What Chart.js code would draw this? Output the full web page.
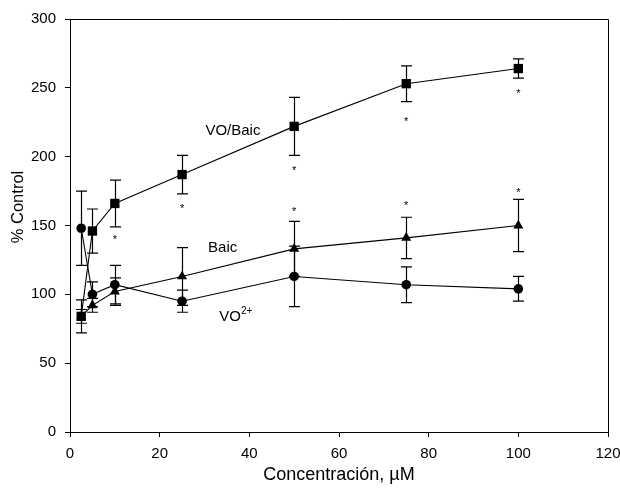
<!DOCTYPE html>
<html>
<head>
<meta charset="utf-8">
<script src="https://cdn.jsdelivr.net/npm/chart.js@4/dist/chart.umd.min.js"></script>
<style>
  html, body { margin: 0; padding: 0; background: #fff; }
  #wrap { width: 620px; height: 488px; }
</style>
</head>
<body>
<div id="wrap"><canvas id="chart" width="620" height="488"></canvas></div>
<script>
// DATA - concentration (uM) and % control for each treatment
var conc = [2.5, 5, 10, 25, 50, 75, 100];

var voBaic = [84, 146, 166, 187, 222, 253, 264];
var voBaicErr = [12, 16, 17, 14, 21, 13, 7];

var baic = [84, 92, 102, 113, 133, 141, 150];
var baicErr = [5, 5, 10, 21, 20, 15, 19];

var vo = [148, 100, 107, 95, 113, 107, 104];
var voErr = [27, 9, 14, 8, 22, 13, 9];

// significance marks (y in % control, null = none)
var voBaicStar = [null, null, 142, 164, 192, 227, 248];
var baicStar = [null, null, null, null, 162, 166, 176];

// series labels written inside the plot: [text, superscript, x, y]
var seriesLabels = [
  ['VO/Baic', '', 30.2, 218.5],
  ['Baic', '', 30.8, 134],
  ['VO', '2+', 33.3, 84]
];

var xTicks = [0, 20, 40, 60, 80, 100, 120];
var yTicks = [0, 50, 100, 150, 200, 250, 300];

var FONT = "'Liberation Sans', Arial, sans-serif";

function pts(ys) {
  var out = [];
  for (var i = 0; i < conc.length; i++) {
    out.push({ x: conc[i], y: ys[i] });
  }
  return out;
}

function makeSet(label, ys, style, radius) {
  return {
    label: label,
    data: pts(ys),
    borderColor: '#000',
    backgroundColor: '#000',
    borderWidth: 1.1,
    pointStyle: style,
    pointRadius: radius,
    pointBorderWidth: 0,
    pointBackgroundColor: '#000',
    fill: false,
    tension: 0
  };
}

var errSets = [voBaicErr, baicErr, voErr];
var valSets = [voBaic, baic, vo];

// error bars, border box, stars and labels
var extras = {
  id: 'extras',
  beforeDatasetsDraw: function(chart) {
    var ctx = chart.ctx;
    var xs = chart.scales.x;
    var ys = chart.scales.y;
    ctx.save();
    ctx.strokeStyle = '#000';
    ctx.lineWidth = 1.2;
    for (var s = 0; s < valSets.length; s++) {
      for (var i = 0; i < conc.length; i++) {
        var px = Math.round(xs.getPixelForValue(conc[i])) + 0.5;
        var top = ys.getPixelForValue(valSets[s][i] + errSets[s][i]);
        var bot = ys.getPixelForValue(valSets[s][i] - errSets[s][i]);
        ctx.beginPath();
        ctx.moveTo(px, top);
        ctx.lineTo(px, bot);
        ctx.moveTo(px - 5.5, top);
        ctx.lineTo(px + 5.5, top);
        ctx.moveTo(px - 5.5, bot);
        ctx.lineTo(px + 5.5, bot);
        ctx.stroke();
      }
    }
    ctx.restore();
  },
  afterDraw: function(chart) {
    var ctx = chart.ctx;
    var xs = chart.scales.x;
    var ys = chart.scales.y;
    var area = chart.chartArea;
    ctx.save();

    // top and right frame lines
    ctx.strokeStyle = '#000';
    ctx.lineWidth = 1;
    ctx.beginPath();
    ctx.moveTo(area.left, Math.round(area.top) + 0.5);
    ctx.lineTo(Math.round(area.right) + 0.5, Math.round(area.top) + 0.5);
    ctx.lineTo(Math.round(area.right) + 0.5, area.bottom);
    ctx.stroke();

    // stars
    ctx.fillStyle = '#000';
    ctx.font = '11px ' + FONT;
    ctx.textAlign = 'center';
    ctx.textBaseline = 'alphabetic';
    var starSets = [voBaicStar, baicStar];
    for (var s = 0; s < starSets.length; s++) {
      for (var i = 0; i < conc.length; i++) {
        if (starSets[s][i] === null) continue;
        ctx.fillText('*', xs.getPixelForValue(conc[i]), ys.getPixelForValue(starSets[s][i]) + 6);
      }
    }

    // series labels
    ctx.textAlign = 'left';
    ctx.textBaseline = 'middle';
    for (var k = 0; k < seriesLabels.length; k++) {
      var lb = seriesLabels[k];
      var lx = xs.getPixelForValue(lb[2]);
      var ly = ys.getPixelForValue(lb[3]);
      ctx.font = '15px ' + FONT;
      ctx.fillText(lb[0], lx, ly);
      if (lb[1]) {
        var w = ctx.measureText(lb[0]).width;
        ctx.font = '10px ' + FONT;
        ctx.fillText(lb[1], lx + w, ly - 5);
      }
    }

    // y axis title
    ctx.font = '16.5px ' + FONT;
    ctx.textAlign = 'center';
    ctx.translate(18, 207);
    ctx.rotate(-Math.PI / 2);
    ctx.fillText('% Control', 0, 0);
    ctx.restore();

    // x axis title
    ctx.save();
    ctx.fillStyle = '#000';
    ctx.font = '18px ' + FONT;
    ctx.textAlign = 'center';
    ctx.textBaseline = 'middle';
    ctx.fillText('Concentración, µM', (area.left + area.right) / 2, 475);
    ctx.restore();
  }
};

var chart = new Chart(document.getElementById('chart'), {
  type: 'line',
  data: {
    datasets: [
      makeSet('VO/Baic', voBaic, 'rect', 6.6),
      makeSet('Baic', baic, 'triangle', 5.8),
      makeSet('VO2+', vo, 'circle', 4.8)
    ]
  },
  options: {
    responsive: false,
    animation: false,
    layout: { padding: { top: 19, right: 12, left: 0, bottom: 0 } },
    plugins: {
      legend: { display: false },
      tooltip: { enabled: false }
    },
    scales: {
      x: {
        type: 'linear',
        min: xTicks[0],
        max: xTicks[xTicks.length - 1],
        afterFit: function(scale) {
          scale.height = 56;
          scale.paddingLeft = 0;
          scale.paddingRight = 0;
        },
        afterBuildTicks: function(scale) {
          scale.ticks = xTicks.map(function(v) { return { value: v }; });
        },
        ticks: { color: '#000', font: { family: FONT, size: 15 }, padding: 8, maxRotation: 0 },
        grid: { drawOnChartArea: false, drawTicks: true, tickLength: 5, color: '#000' },
        border: { display: true, color: '#000', width: 1 }
      },
      y: {
        min: yTicks[0],
        max: yTicks[yTicks.length - 1],
        afterFit: function(scale) {
          scale.width = 70;
          scale.paddingTop = 0;
          scale.paddingBottom = 0;
        },
        afterBuildTicks: function(scale) {
          scale.ticks = yTicks.map(function(v) { return { value: v }; });
        },
        ticks: { color: '#000', font: { family: FONT, size: 15 }, padding: 9 },
        grid: { drawOnChartArea: false, drawTicks: true, tickLength: 5, color: '#000' },
        border: { display: true, color: '#000', width: 1 }
      }
    }
  },
  plugins: [extras]
});
</script>
</body>
</html>
